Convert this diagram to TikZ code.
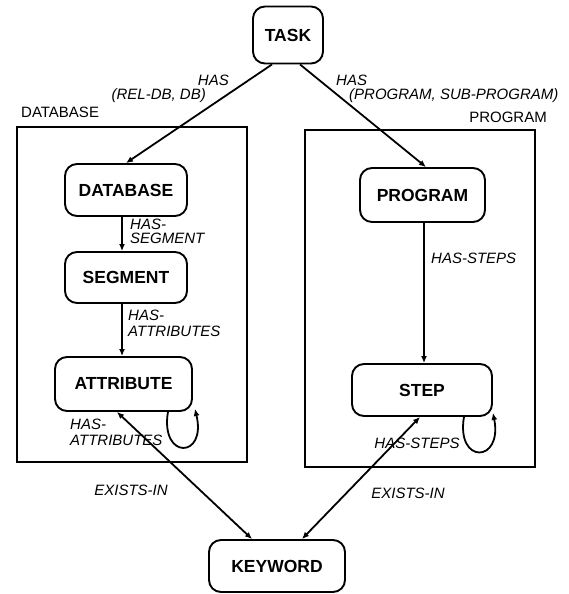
\documentclass[tikz,border=0pt]{standalone}
\usepackage{fontspec}
\setmainfont{Liberation Sans}
\usetikzlibrary{arrows.meta,calc}
\begin{document}
\begin{tikzpicture}[x=1pt,y=-1pt,
  entity/.style={draw,line width=1.9pt,rounded corners=12pt,inner sep=0pt,
    font=\fontsize{17.5}{20}\selectfont\bfseries},
  frame/.style={draw,line width=1.5pt,inner sep=0pt},
  tip/.tip={Latex[length=7pt,width=6pt]},
  rel/.style={line width=1.8pt,-tip},
  both/.style={line width=1.8pt,tip-tip},
  lbl/.style={font=\fontsize{15}{16}\selectfont\itshape,inner sep=0pt,align=left},
  grp/.style={font=\fontsize{15}{17}\selectfont,inner sep=0pt}]
\useasboundingbox (0,0) rectangle (568,594);

% group frames
\node[frame,minimum width=230pt,minimum height=335pt] (dbframe) at (132,294.5) {};
\node[frame,minimum width=230pt,minimum height=337pt] (prframe) at (420,298.5) {};
\node[grp,anchor=west] (dbname) at (21,112) {DATABASE};
\node[grp,anchor=east] (prname) at (547,117) {PROGRAM};

% entities
\node[entity,minimum width=70pt,minimum height=57pt] (task) at (288,35) {TASK};
\node[entity,minimum width=122pt,minimum height=52pt] (db) at (126,190) {DATABASE};
\node[entity,minimum width=122pt,minimum height=51pt] (seg) at (126,277.5) {SEGMENT};
\node[entity,minimum width=137pt,minimum height=54pt] (attr) at (123.5,384) {ATTRIBUTE};
\node[entity,minimum width=125pt,minimum height=54pt] (prog) at (422.5,195) {PROGRAM};
\node[entity,minimum width=140pt,minimum height=52pt] (step) at (422,390) {STEP};
\node[entity,minimum width=136pt,minimum height=52pt] (kw) at (277,566) {KEYWORD};

% relations
\draw[rel] ([xshift=-16pt]task.south) -- (db.north);
\draw[rel] ([xshift=12pt]task.south) -- ([xshift=3.5pt]prog.north);
\draw[rel] ([xshift=-4pt]db.south) -- ([xshift=-4pt]seg.north);
\draw[rel] ([xshift=-4pt]seg.south) -- ([xshift=-1.5pt]attr.north);
\draw[rel] ([xshift=1.5pt]prog.south) -- ([xshift=2pt]step.north);
\draw[rel] ([xshift=-25pt]attr.south east) .. controls +(-8,48) and +(12,50) .. ([xshift=2pt,yshift=3pt]attr.south east);
\draw[rel] ([xshift=-29pt]step.south east) .. controls +(-8,48) and +(10,50) .. ([xshift=0pt,yshift=4pt]step.south east);
\draw[both] ([xshift=-6.5pt]attr.south) -- ([xshift=-25pt]kw.north);
\draw[both] ([xshift=-2pt]step.south) -- ([xshift=25pt]kw.north);

% relation labels
\node[lbl,anchor=east] (l1a) at (229,80) {HAS};
\node[lbl,anchor=east] (l1b) at (206,96) {(REL-DB, DB)};
\node[lbl,anchor=west] (l2a) at (336,80) {HAS};
\node[lbl,anchor=west] (l2b) at (349,96) {(PROGRAM, SUB-PROGRAM)};
\node[lbl,anchor=west] (l3) at (130,231) {HAS-\\[-2pt]SEGMENT};
\node[lbl,anchor=west] (l4) at (128,323) {HAS-\\ATTRIBUTES};
\node[lbl,anchor=west] (l5) at (431,258) {HAS-STEPS};
\node[lbl,anchor=west] (l6) at (70,432) {HAS-\\ATTRIBUTES};
\node[lbl,anchor=center] (l7) at (417,443) {HAS-STEPS};
\node[lbl,anchor=center] (l8) at (131,490) {EXISTS-IN};
\node[lbl,anchor=center] (l9) at (408,493) {EXISTS-IN};
\end{tikzpicture}
\end{document}
